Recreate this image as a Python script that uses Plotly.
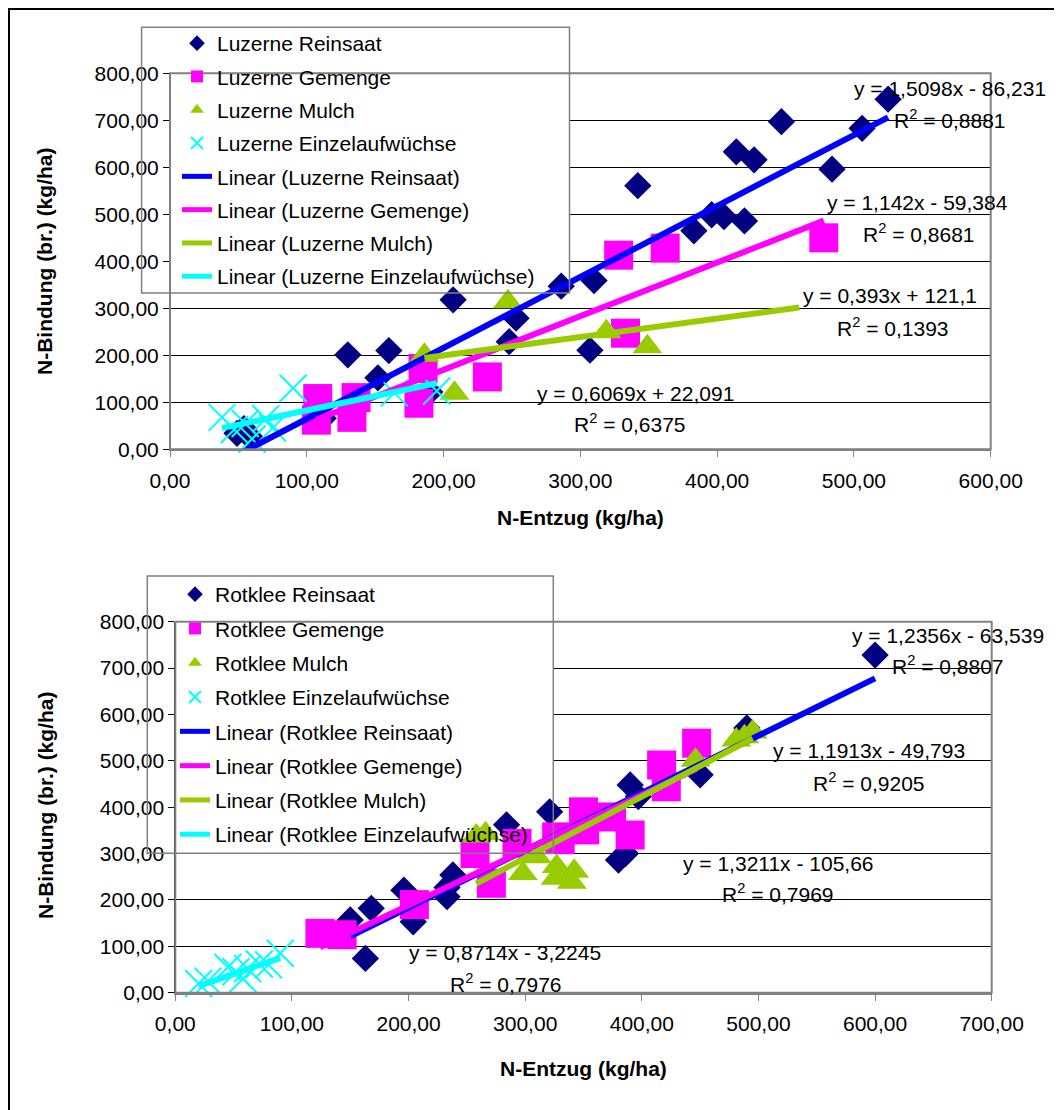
import plotly.graph_objects as go

# ---------------- DATA ----------------
# Luzerne (top chart)
luz_rein_x = [49, 54, 58, 112, 130, 152, 160, 190, 207, 248, 253, 286, 307, 310, 342, 383, 396, 405, 414, 420, 427, 447, 484, 506, 525]
luz_rein_y = [34, 44, 28, 66, 201, 152, 210, 122, 318, 229, 279, 347, 211, 359, 561, 465, 499, 495, 633, 486, 616, 697, 596, 683, 745]
luz_gem_x = [108, 107, 136, 133, 182, 185, 232, 328, 333, 362, 478]
luz_gem_y = [108, 62, 110, 68, 98, 172, 154, 413, 247, 428, 450]
luz_mul_x = [186, 208, 247, 319, 349]
luz_mul_y = [200, 119, 314, 250, 218]
luz_ein_x = [38, 47, 55, 60, 70, 75, 90, 164, 195]
luz_ein_y = [68, 42, 55, 22, 65, 45, 130, 120, 124]

# Rotklee (bottom chart)
rot_rein_x = [150, 163, 168, 196, 204, 233, 233, 238, 284, 321, 380, 386, 390, 397, 450, 490, 600]
rot_rein_y = [157, 74, 182, 221, 153, 207, 227, 254, 362, 390, 286, 300, 448, 423, 470, 571, 728]
rot_gem_x = [124, 143, 205, 257, 271, 293, 327, 330, 350, 351, 374, 390, 417, 421, 447]
rot_gem_y = [128, 125, 190, 300, 236, 322, 336, 330, 390, 351, 379, 340, 491, 444, 538]
rot_mul_x = [258, 266, 298, 310, 326, 327, 340, 342, 446, 481, 488, 495]
rot_mul_y = [338, 343, 257, 293, 247, 272, 238, 262, 501, 545, 552, 562]
rot_ein_x = [20, 28, 45, 52, 58, 62, 72, 80, 90]
rot_ein_y = [20, 25, 55, 45, 30, 52, 62, 60, 85]

# Trendlines: slope, intercept, x-range, equation text, R²
luz_trend = [
    (1.5098, -86.231, (49, 525), "y = 1,5098x - 86,231", "0,8881"),
    (1.142, -59.384, (107, 478), "y = 1,142x - 59,384", "0,8681"),
    (0.393, 121.1, (186, 460), "y = 0,393x + 121,1", "0,1393"),
    (0.6069, 22.091, (38, 195), "y = 0,6069x + 22,091", "0,6375"),
]
rot_trend = [
    (1.2356, -63.539, (150, 600), "y = 1,2356x - 63,539", "0,8807"),
    (1.1913, -49.793, (124, 447), "y = 1,1913x - 49,793", "0,9205"),
    (1.3211, -105.66, (258, 495), "y = 1,3211x - 105,66", "0,7969"),
    (0.8714, -3.2245, (20, 90), "y = 0,8714x - 3,2245", "0,7976"),
]

series_names = ["Reinsaat", "Gemenge", "Mulch", "Einzelaufwüchse"]

# ---------------- LAYOUT HELPERS ----------------
O = 8            # browser body margin
W, H = 1054, 1102
FONT = "Arial, Liberation Sans, sans-serif"
FS = 21

def px(x):
    return (x - O) / W

def py(y):
    return 1 - (y - O) / H

marker_styles = [
    dict(symbol="diamond", size=21, color="#000080"),
    dict(symbol="square", size=29, color="#FF00FF"),
    dict(symbol="triangle-up", size=26, color="#99CC00"),
    dict(symbol="x-thin", size=27, color="#00FFFF", line=dict(color="#00FFFF", width=2)),
]
line_colors = ["#0000FF", "#FF00FF", "#99CC00", "#00FFFF"]

fig = go.Figure()

def add_chart(prefix, xs, ys, trends, xa, ya, legend):
    for name, x, y, ms in zip(series_names, xs, ys, marker_styles):
        fig.add_trace(go.Scatter(
            x=x, y=y, mode="markers", name=f"{prefix} {name}",
            marker=ms, xaxis=xa, yaxis=ya, legend=legend,
            legendgroup=f"{prefix}{name}m", cliponaxis=False))
    for name, tr, col in zip(series_names, trends, line_colors):
        a, b, (x0, x1) = tr[0], tr[1], tr[2]
        fig.add_trace(go.Scatter(
            x=[x0, x1], y=[a * x0 + b, a * x1 + b], mode="lines",
            name=f"Linear ({prefix} {name})",
            line=dict(color=col, width=6), xaxis=xa, yaxis=ya, legend=legend,
            legendgroup=f"{prefix}{name}l"))

add_chart("Luzerne", [luz_rein_x, luz_gem_x, luz_mul_x, luz_ein_x],
          [luz_rein_y, luz_gem_y, luz_mul_y, luz_ein_y], luz_trend, "x", "y", "legend")
add_chart("Rotklee", [rot_rein_x, rot_gem_x, rot_mul_x, rot_ein_x],
          [rot_rein_y, rot_gem_y, rot_mul_y, rot_ein_y], rot_trend, "x2", "y2", "legend2")

def xaxis_cfg(dom, rng):
    return dict(domain=dom, range=rng, dtick=100, tick0=0, tickformat=".2f",
                ticks="outside", ticklen=6, tickcolor="#808080", tickwidth=1,
                ticklabelstandoff=5, automargin=False,
                showgrid=False, zeroline=False, showline=True, linecolor="#808080",
                linewidth=2, tickfont=dict(family=FONT, size=FS, color="black"),
                fixedrange=True)

def yaxis_cfg(dom, anchor):
    return dict(domain=dom, range=[0, 800], dtick=100, tick0=0, tickformat=".2f",
                ticks="outside", ticklen=6, tickcolor="black", tickwidth=1,
                automargin=False,
                showgrid=True, gridcolor="black", gridwidth=1, zeroline=False,
                showline=True, linecolor="black", linewidth=1, anchor=anchor,
                tickfont=dict(family=FONT, size=FS, color="black"), fixedrange=True)

legend_common = dict(font=dict(family=FONT, size=FS, color="black"),
                     bgcolor="rgba(0,0,0,0)", borderwidth=0, itemsizing="constant",
                     xanchor="left", yanchor="top", traceorder="grouped")

TOP_X = (170, 990.7)
TOP_Y = (449.3, 73.3)
BOT_X = (175.3, 991.7)
BOT_Y = (992.7, 621.7)

fig.update_layout(
    width=W, height=H, margin=dict(l=0, r=0, t=0, b=0, autoexpand=False),
    paper_bgcolor="white", plot_bgcolor="white",
    separators=",.",
    font=dict(family=FONT, size=FS, color="black"),
    xaxis=dict(xaxis_cfg([px(TOP_X[0]), px(TOP_X[1])], [0, 600]), anchor="y"),
    yaxis=yaxis_cfg([py(TOP_Y[0]), py(TOP_Y[1])], "x"),
    xaxis2=dict(xaxis_cfg([px(BOT_X[0]), px(BOT_X[1])], [0, 700]), anchor="y2"),
    yaxis2=yaxis_cfg([py(BOT_Y[0]), py(BOT_Y[1])], "x2"),
    legend=dict(legend_common, x=px(177), y=py(23), tracegroupgap=3),
    legend2=dict(legend_common, x=px(175), y=py(574), tracegroupgap=4),
)

def data_x(x, XR, xmax):
    return (x - XR[0]) / (XR[1] - XR[0]) * xmax

def data_y(y, YR):
    return (YR[0] - y) / (YR[0] - YR[1]) * 800

shapes = []
# plot-area frames (grey)
for XR, YR in ((TOP_X, TOP_Y), (BOT_X, BOT_Y)):
    shapes.append(dict(type="rect", xref="paper", yref="paper",
                       x0=px(XR[0]), x1=px(XR[1]), y0=py(YR[0]), y1=py(YR[1]),
                       line=dict(color="#808080", width=2), layer="above"))
# legend boxes: white fill above gridlines but below the marks, grey outline
for (l, t, r, b), xa, ya, XR, YR, xmax in (((141.6, 27.3, 569.5, 293), "x", "y", TOP_X, TOP_Y, 600),
                                           ((147.3, 576, 553.3, 853.3), "x2", "y2", BOT_X, BOT_Y, 700)):
    shapes.append(dict(type="rect", xref=xa, yref=ya,
                       x0=data_x(l, XR, xmax), x1=data_x(r, XR, xmax),
                       y0=data_y(b, YR), y1=data_y(t, YR),
                       fillcolor="white", line=dict(width=0), layer="between"))
    shapes.append(dict(type="rect", xref="paper", yref="paper",
                       x0=px(l), x1=px(r), y0=py(b), y1=py(t),
                       line=dict(color="#808080", width=1.5), layer="above"))
# outer frame (left and top edges; right/bottom edges lie outside the picture)
shapes.append(dict(type="line", xref="paper", yref="paper",
                   x0=px(9), x1=px(9), y0=0, y1=py(8),
                   line=dict(color="black", width=2), layer="above"))
shapes.append(dict(type="line", xref="paper", yref="paper",
                   x0=px(8), x1=1, y0=py(9), y1=py(9),
                   line=dict(color="black", width=2), layer="above"))
fig.update_layout(shapes=shapes)

ann = []
def txt(x, y, s, bold=False, angle=0):
    ann.append(dict(x=px(x), y=py(y), xref="paper", yref="paper", text=(f"<b>{s}</b>" if bold else s),
                    showarrow=False, xanchor="center", yanchor="middle", textangle=angle,
                    font=dict(family=FONT, size=FS, color="black")))

# equation labels (centre positions)
luz_pos = [((950, 88), (950, 119)), ((917, 202), (919, 233)), ((890, 295), (893, 327)), ((635, 393), (630, 423))]
rot_pos = [((948, 635), (948, 665)), ((869, 750), (869, 782)), ((778, 863), (778, 893)), ((505, 952), (506, 983))]
for tr, (p1, p2) in zip(luz_trend, luz_pos):
    txt(*p1, tr[3]); txt(*p2, f"R<sup>2</sup> = {tr[4]}")
for tr, (p1, p2) in zip(rot_trend, rot_pos):
    txt(*p1, tr[3]); txt(*p2, f"R<sup>2</sup> = {tr[4]}")

# axis titles
txt(45, 262, "N-Bindung (br.) (kg/ha)", bold=True, angle=-90)
txt(580, 518, "N-Entzug (kg/ha)", bold=True)
txt(45, 806, "N-Bindung (br.) (kg/ha)", bold=True, angle=-90)
txt(583, 1068, "N-Entzug (kg/ha)", bold=True)
fig.update_layout(annotations=ann)

fig.write_html("out.html")
